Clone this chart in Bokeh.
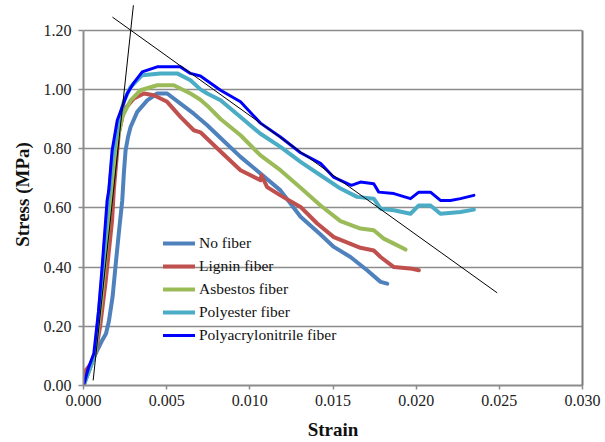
from bokeh.plotting import figure
from bokeh.models import (LinearAxis, FixedTicker, NumeralTickFormatter, Range1d,
                          Legend, LegendItem, Title)
from bokeh.embed import file_html
from bokeh.resources import INLINE

# ---- data ----
nf_strain = [0, 0.0004, 0.00072, 0.0011, 0.00135, 0.00152, 0.00175, 0.00192, 0.00212, 0.00233,
             0.00243, 0.00253, 0.00268, 0.00283, 0.00323, 0.00383, 0.00443, 0.00503, 0.00583,
             0.00663, 0.00744, 0.00824, 0.00944, 0.01064, 0.01184, 0.01305, 0.01425, 0.01505,
             0.01605, 0.01705, 0.01786, 0.01826]
nf_stress = [0, 0.06, 0.107, 0.15, 0.175, 0.215, 0.30, 0.40, 0.513, 0.625,
             0.72, 0.794, 0.84, 0.873, 0.924, 0.963, 0.986, 0.986, 0.952,
             0.918, 0.879, 0.836, 0.772, 0.716, 0.659, 0.570, 0.510, 0.468,
             0.434, 0.389, 0.350, 0.344]

lig_strain = [0, 0.00012, 0.0004, 0.00072, 0.0010, 0.00132, 0.00172, 0.00182, 0.00212, 0.00243,
              0.00303, 0.00363, 0.00423, 0.00503, 0.00583, 0.00663, 0.00703, 0.00824, 0.00944,
              0.01064, 0.0107, 0.01104, 0.01184, 0.01305, 0.01405, 0.01505, 0.01665, 0.01745,
              0.01786, 0.01866, 0.01976, 0.02016]
lig_stress = [0, 0.05, 0.07, 0.108, 0.20, 0.345, 0.558, 0.659, 0.852, 0.930,
              0.969, 0.986, 0.980, 0.958, 0.907, 0.862, 0.855, 0.790, 0.727,
              0.693, 0.710, 0.670, 0.642, 0.603, 0.547, 0.501, 0.465, 0.456,
              0.434, 0.400, 0.394, 0.389]

asb_strain = [0, 0.0004, 0.0007, 0.0011, 0.00152, 0.00192, 0.00233, 0.00283, 0.00343, 0.00443,
              0.00543, 0.00643, 0.00703, 0.00744, 0.00824, 0.00944, 0.01064, 0.01184, 0.01305,
              0.01425, 0.01545, 0.01665, 0.01745, 0.01805, 0.01866, 0.01936]
asb_stress = [0, 0.06, 0.11, 0.30, 0.55, 0.80, 0.907, 0.963, 0.997, 1.014,
              1.014, 0.986, 0.965, 0.945, 0.900, 0.845, 0.777, 0.727, 0.668,
              0.608, 0.555, 0.530, 0.524, 0.496, 0.479, 0.459]

pes_strain = [0, 0.0004, 0.0007, 0.0011, 0.00142, 0.00172, 0.00203, 0.00243, 0.00283, 0.00353,
              0.00463, 0.00563, 0.00643, 0.00703, 0.00744, 0.00824, 0.00944, 0.01064, 0.01184,
              0.01305, 0.01425, 0.01545, 0.01645, 0.01745, 0.01786, 0.01866, 0.01966, 0.02016,
              0.02086, 0.02146, 0.02266, 0.02347]
pes_stress = [0, 0.06, 0.11, 0.35, 0.58, 0.76, 0.87, 0.96, 1.008, 1.048,
              1.054, 1.054, 1.031, 1.000, 0.986, 0.963, 0.907, 0.850, 0.806,
              0.755, 0.710, 0.665, 0.637, 0.631, 0.597, 0.592, 0.580, 0.608,
              0.608, 0.580, 0.586, 0.594]

pan_strain = [0, 0.0003, 0.00062, 0.0009, 0.00112, 0.00142, 0.00152, 0.00172, 0.00203, 0.00263,
              0.0030, 0.00353, 0.00443, 0.00583, 0.00643, 0.00703, 0.00824, 0.00944, 0.01064,
              0.01184, 0.01305, 0.01425, 0.01503, 0.01545, 0.0161, 0.01665, 0.01745, 0.01775,
              0.01866, 0.01966, 0.02016, 0.02086, 0.02146, 0.02206, 0.02266, 0.02347]
pan_stress = [0, 0.06, 0.108, 0.25, 0.40, 0.625, 0.659, 0.794, 0.896, 0.986,
              1.02, 1.059, 1.076, 1.076, 1.054, 1.045, 0.997, 0.958, 0.886,
              0.839, 0.786, 0.750, 0.704, 0.693, 0.676, 0.687, 0.681, 0.653,
              0.648, 0.631, 0.653, 0.653, 0.625, 0.625, 0.631, 0.642]

tan1_strain = [0.00058, 0.0030]
tan1_stress = [0.017, 1.284]
tan2_strain = [0.00174, 0.02487]
tan2_stress = [1.244, 0.313]

series_names = ["No fiber", "Lignin fiber", "Asbestos fiber", "Polyester fiber",
                "Polyacrylonitrile fiber"]
series_colors = ["#4F81BD", "#C0504D", "#9BBB59", "#4BACC6", "#0000FF"]

x_ticks = [0.0, 0.005, 0.010, 0.015, 0.020, 0.025, 0.030]
y_ticks = [0.0, 0.2, 0.4, 0.6, 0.8, 1.0, 1.2]

SERIF = "Liberation Serif"
GRID = "#8c8c8c"

p = figure(width=605, height=442, x_range=Range1d(0, 0.030), y_range=Range1d(0, 1.29),
           output_backend="svg", toolbar_location=None,
           min_border_left=83, min_border_right=23, min_border_top=3, min_border_bottom=57)
p.outline_line_color = None
p.background_fill_color = "white"

# axes
xa = p.xaxis[0]
xa.ticker = FixedTicker(ticks=x_ticks)
xa.formatter = NumeralTickFormatter(format="0.000")
xa.axis_label = "Strain"
ya = p.yaxis[0]
ya.ticker = FixedTicker(ticks=y_ticks)
ya.formatter = NumeralTickFormatter(format="0.00")
ya.bounds = (0, 1.2)
for ax in (xa, ya):
    ax.axis_line_color = GRID
    ax.axis_line_width = 2
    ax.major_tick_line_color = GRID
    ax.major_tick_line_width = 1.5
    ax.major_tick_in = 0
    ax.minor_tick_line_color = None
    ax.major_label_text_font = SERIF
    ax.major_label_text_font_size = "16px"
    ax.major_label_text_color = "#222222"
    ax.axis_label_text_font = SERIF
    ax.axis_label_text_font_style = "bold"
    ax.axis_label_text_font_size = "19px"
    ax.axis_label_text_color = "#111111"
xa.major_tick_out = 4
xa.major_label_standoff = 5
xa.axis_label_standoff = 10
ya.major_tick_out = 5
ya.major_label_standoff = 7

ra = LinearAxis(bounds=(0, 1.2), ticker=FixedTicker(ticks=[]),
                major_tick_line_color=None, minor_tick_line_color=None,
                major_label_text_font_size="0px", axis_line_color="#7a7a7a",
                axis_line_width=2)
p.add_layout(ra, "right")

# y-axis title as a side title, shifted to centre on the 0..1.2 span
ytitle = Title(text="Stress (MPa)", align="center", offset=-11,
               text_font=SERIF, text_font_style="bold", text_font_size="19px",
               text_color="#111111", standoff=15)
p.add_layout(ytitle, "left")

# grid
p.xgrid.visible = False
p.ygrid.ticker = FixedTicker(ticks=y_ticks[1:])
p.ygrid.grid_line_color = GRID
p.ygrid.grid_line_width = 1.5

# curves
data = [(nf_strain, nf_stress), (lig_strain, lig_stress), (asb_strain, asb_stress),
        (pes_strain, pes_stress), (pan_strain, pan_stress)]
items = []
for (xs, ys), name, col in zip(data, series_names, series_colors):
    lw = 3 if col == "#0000FF" else 4
    r = p.line(xs, ys, line_color=col, line_width=lw, line_join="round", line_cap="round")
    items.append(LegendItem(label=name, renderers=[r]))

p.line(tan1_strain, tan1_stress, line_color="black", line_width=1)
p.line(tan2_strain, tan2_stress, line_color="black", line_width=1)

legend = Legend(items=items, location=(80, 40))
legend.background_fill_alpha = 0
legend.border_line_alpha = 0
legend.padding = 0
legend.margin = 0
legend.spacing = 3
legend.glyph_width = 32
legend.glyph_height = 20
legend.label_height = 20
legend.label_standoff = 4
legend.label_text_font = SERIF
legend.label_text_font_size = "15.5px"
legend.label_text_color = "#111111"
p.add_layout(legend)

open("out.html", "w").write(file_html(p, INLINE))
